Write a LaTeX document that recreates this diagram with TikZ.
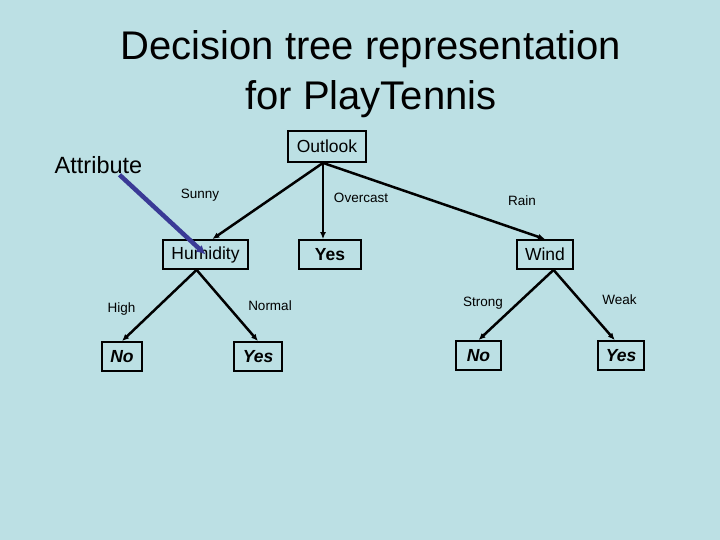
\documentclass[tikz,border=0pt]{standalone}
\usepackage{fontspec}
\setmainfont{Liberation Sans}
\usetikzlibrary{arrows.meta}
\definecolor{slidebg}{RGB}{188,224,228}
\definecolor{attrblue}{RGB}{58,58,150}

\begin{document}
\begin{tikzpicture}[x=1pt,y=-1pt,
  box/.style={draw, line width=1.8pt, minimum height=29pt, inner xsep=0pt, inner ysep=0pt, font=\fontsize{17.5}{20}\selectfont},
  leaf/.style={box, font=\fontsize{17.5}{20}\selectfont\bfseries\itshape},
  lbl/.style={inner sep=0pt, font=\fontsize{13.5}{16}\selectfont},
  branch/.style={line width=2.5pt, -{Latex[length=7pt,width=6pt]}}]
\fill[slidebg] (0,0) rectangle (720,540);
\node(T1) [anchor=base, font=\fontsize{40}{50}\selectfont] at (371,60) {Decision tree representation};
\node(T2) [anchor=base, font=\fontsize{40}{50}\selectfont] at (371,110) {for PlayTennis};
\node(attr) [inner sep=0pt, font=\fontsize{23.5}{28}\selectfont] at (98.5,165) {Attribute};
% tree
\node(out) [box, minimum width=78pt, minimum height=31pt] at (327,146.5) {Outlook};
\node(hum) [box, minimum width=85pt] at (205.5,254.5) {Humidity};
\node(yes1) [box, minimum width=62pt, font=\fontsize{17.5}{20}\selectfont\bfseries] at (330,254.5) {Yes};
\node(wind) [box, minimum width=56pt] at (545,254.5) {Wind};
\node(no1) [leaf, minimum width=40pt] at (122,356.5) {No};
\node(yes2) [leaf, minimum width=48pt] at (258,356.5) {Yes};
\node(no2) [leaf, minimum width=45pt] at (478.5,355.5) {No};
\node(yes3) [leaf, minimum width=46pt] at (621,355.5) {Yes};
% branch values
\node(sunny) [lbl] at (200,195) {Sunny};
\node(overcast) [lbl] at (361,198) {Overcast};
\node(rain) [lbl] at (522,201) {Rain};
\node(high) [lbl] at (121.5,309) {High};
\node(normal) [lbl] at (270,306) {Normal};
\node(strong) [lbl] at (483,303.5) {Strong};
\node(weak) [lbl] at (619.5,300) {Weak};
\draw[branch] ([xshift=-4pt]out.south) -- (hum.66);
\draw[branch] ([xshift=-4pt]out.south) -- ([xshift=-7pt]yes1.north);
\draw[branch] ([xshift=-4pt]out.south) -- (wind.north);
\draw[branch] (hum.240) -- (no1.north);
\draw[branch] (hum.240) -- (yes2.north);
\draw[branch] (wind.299) -- (no2.north);
\draw[branch] (wind.299) -- (yes3.112);
\draw[attrblue, line width=4.5pt, -{Latex[length=9pt,width=9pt]}] ([xshift=21pt,yshift=-1pt]attr.south) -- (hum.center);
\end{tikzpicture}
\end{document}
